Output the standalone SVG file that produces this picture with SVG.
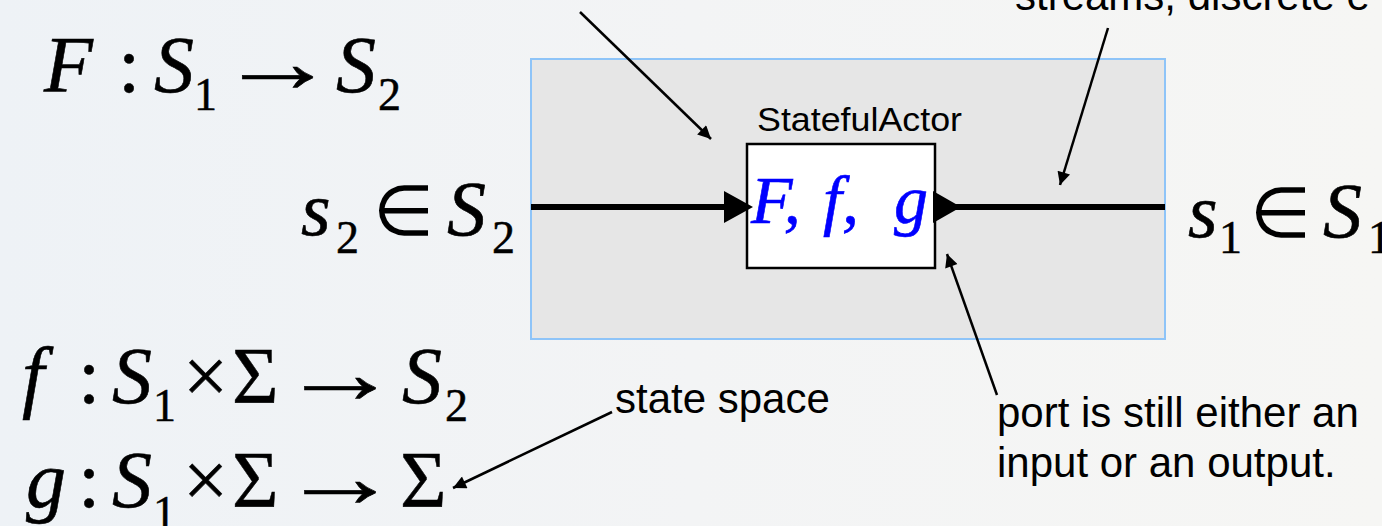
<svg xmlns="http://www.w3.org/2000/svg" width="1382" height="526" viewBox="0 0 1382 526">
<defs>
<linearGradient id="bg" x1="0" y1="0" x2="1" y2="0">
<stop offset="0" stop-color="#eef2f6"/>
<stop offset="0.5" stop-color="#f3f4f5"/>
<stop offset="1" stop-color="#f6f6f4"/>
</linearGradient>
<marker id="ah" viewBox="0 0 10 10" refX="10" refY="5" markerUnits="userSpaceOnUse" markerWidth="18" markerHeight="13" orient="auto">
<path d="M0,0 L10,5 L0,10 z" fill="#000"/>
</marker>
<style>
.mi{font-family:"Liberation Serif","Times New Roman","DejaVu Serif",serif;font-style:italic;fill:#000;stroke:#000;stroke-width:0.6}
.mn{font-family:"Liberation Serif","Times New Roman","DejaVu Serif",serif;fill:#000;stroke:#000;stroke-width:0.5}
.el{font-family:"DejaVu Sans",sans-serif;font-weight:200;fill:#000}
.blue{fill:#0000ff;stroke:#0000ff;stroke-width:0.6}
.sans{font-family:"Liberation Sans",Arial,sans-serif;fill:#000}
.ann{stroke:#000;stroke-width:2.5;fill:none;marker-end:url(#ah)}
.wire{stroke:#000;stroke-width:6;fill:none}
</style>
</defs>
<rect width="1382" height="526" fill="url(#bg)"/>

<g id="model">
<rect x="531" y="59" width="634" height="280" fill="#e6e6e6" stroke="#8ec4f8" stroke-width="2"/>
</g>

<g id="actor">
<text class="sans" x="757" y="131" font-size="34" textLength="205" lengthAdjust="spacingAndGlyphs" fill="#1a1a1a">StatefulActor</text>
<rect x="747" y="144" width="188" height="124" fill="#ffffff" stroke="#000" stroke-width="2.5"/>
<text class="mi blue" x="751" y="223" font-size="68">F,</text>
<text class="mi blue" x="823" y="223" font-size="68">f,</text>
<text class="mi blue" x="894" y="223" font-size="68">g</text>
</g>

<g id="connectors">
<line class="wire" x1="531" y1="207" x2="730" y2="207"/>
<polygon points="724,191 753,207 724,223" fill="#000"/>
<polygon points="933,191 961,207 933,223" fill="#000"/>
<line class="wire" x1="955" y1="207" x2="1165" y2="207"/>
<line class="ann" x1="580" y1="12" x2="711" y2="139"/>
<line class="ann" x1="1108" y1="28" x2="1060" y2="185"/>
<line class="ann" x1="997" y1="395" x2="947" y2="254"/>
<line class="ann" x1="612" y1="412" x2="453" y2="488"/>
</g>

<g id="eqF">
<text class="mi" x="44" y="92" font-size="80">F</text>
<text class="mn" x="118" y="92" font-size="80">:</text>
<text class="mi" x="154" y="92" font-size="80">S</text>
<text class="mn" x="194" y="110" font-size="46">1</text>
<text class="mn" x="218" y="92" font-size="88" textLength="119" lengthAdjust="spacingAndGlyphs">→</text>
<text class="mi" x="336" y="92" font-size="80">S</text>
<text class="mn" x="378" y="110" font-size="46">2</text>
</g>

<g id="in-label">
<text class="mi" x="301" y="235" font-size="76">s</text>
<text class="mn" x="336" y="253" font-size="46">2</text>
<text class="el" x="373" y="235" font-size="70">∈</text>
<text class="mi" x="447" y="235" font-size="78">S</text>
<text class="mn" x="492" y="253" font-size="46">2</text>
</g>

<g id="out-label">
<text class="mi" x="1188" y="237" font-size="76">s</text>
<text class="mn" x="1219" y="253" font-size="46">1</text>
<text class="el" x="1250" y="237" font-size="70">∈</text>
<text class="mi" x="1323" y="237" font-size="78">S</text>
<text class="mn" x="1368" y="253" font-size="46">1</text>
</g>

<g id="eqf">
<text class="mi" x="22" y="403" font-size="80">f</text>
<text class="mn" x="78" y="403" font-size="80">:</text>
<text class="mi" x="112" y="403" font-size="80">S</text>
<text class="mn" x="153" y="421" font-size="46">1</text>
<text class="mn" x="183" y="403" font-size="80">×</text>
<text class="mn" x="232" y="403" font-size="80">Σ</text>
<text class="mn" x="280" y="403" font-size="88" textLength="120" lengthAdjust="spacingAndGlyphs">→</text>
<text class="mi" x="402" y="403" font-size="80">S</text>
<text class="mn" x="445" y="421" font-size="46">2</text>
</g>

<g id="eqg">
<text class="mi" x="26" y="507" font-size="80">g</text>
<text class="mn" x="78" y="507" font-size="80">:</text>
<text class="mi" x="112" y="507" font-size="80">S</text>
<text class="mn" x="153" y="528" font-size="46">1</text>
<text class="mn" x="183" y="507" font-size="80">×</text>
<text class="mn" x="232" y="507" font-size="80">Σ</text>
<text class="mn" x="280" y="507" font-size="88" textLength="120" lengthAdjust="spacingAndGlyphs">→</text>
<text class="mn" x="400" y="507" font-size="80">Σ</text>
</g>

<g id="notes">
<text class="sans" x="1015" y="10" font-size="42">streams, discrete e</text>
<text class="sans" x="615" y="413" font-size="42">state space</text>
<text class="sans" x="997" y="427" font-size="42">port is still either an</text>
<text class="sans" x="997" y="477" font-size="42">input or an output.</text>
</g>
</svg>
